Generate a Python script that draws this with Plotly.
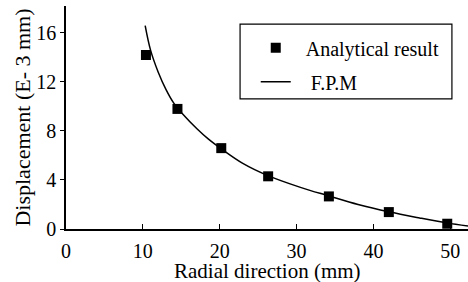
import plotly.graph_objects as go

# Analytical result (square markers)
ana_x = [10.4, 14.5, 20.2, 26.3, 34.2, 42.0, 49.6]
ana_y = [14.2, 9.8, 6.6, 4.3, 2.66, 1.38, 0.43]

# F.P.M curve
fpm_x = [10.3, 11.0, 12.0, 13.0, 14.0, 15.3, 17.0, 18.5, 20.4, 23.0, 26.1, 30.5, 34.2, 38.0, 42.0, 46.0, 49.5, 52.3]
fpm_y = [16.6, 14.6, 12.8, 11.4, 10.3, 9.3, 8.2, 7.35, 6.45, 5.35, 4.4, 3.4, 2.7, 2.0, 1.4, 0.9, 0.5, 0.25]

x_ticks = [0, 10, 20, 30, 40, 50]
y_ticks = [0, 4, 8, 12, 16]

FONT = "Liberation Serif"
NB = "\u00a0"

fig = go.Figure()
fig.add_trace(go.Scatter(
    x=ana_x, y=ana_y, mode="markers", name=NB * 2 + "Analytical result",
    marker=dict(symbol="square", size=10, color="black"),
    legendgroup="a",
))
fig.add_trace(go.Scatter(
    x=fpm_x, y=fpm_y, mode="lines", name=NB * 3 + "F.P.M",
    line=dict(color="black", width=1.5, shape="spline", smoothing=1.0),
    legendgroup="b",
))

# legend frame
fig.add_shape(type="rect", xref="paper", yref="paper",
              x0=0.433, x1=0.960, y0=0.5835, y1=0.919,
              line=dict(color="black", width=1.2), fillcolor="rgba(0,0,0,0)")

# x-axis title
fig.add_annotation(text="Radial direction (mm)", xref="paper", yref="paper",
                   x=0.5, y=-0.19, xanchor="center", yanchor="middle",
                   showarrow=False, font=dict(family=FONT, size=21, color="black"))

fig.update_layout(
    width=468, height=282,
    margin=dict(l=66, r=0, t=6, b=53),
    paper_bgcolor="white", plot_bgcolor="white",
    font=dict(family=FONT, size=20, color="black"),
    showlegend=True,
    legend=dict(
        x=0.472, y=0.9, xanchor="left", yanchor="top",
        borderwidth=0, bgcolor="rgba(0,0,0,0)",
        font=dict(family=FONT, size=20, color="black"),
        tracegroupgap=5,
    ),
    xaxis=dict(
        range=[0, 52.3], tickvals=x_ticks, ticktext=[str(v) for v in x_ticks],
        showline=True, linecolor="black", linewidth=1.5,
        ticks="inside", ticklen=5, tickcolor="black",
        showgrid=False, zeroline=False, automargin=False,
        ticklabelstandoff=3,
        tickfont=dict(family=FONT, size=20),
    ),
    yaxis=dict(
        range=[0, 18.2], tickvals=y_ticks, ticktext=[str(v) for v in y_ticks],
        showline=True, linecolor="black", linewidth=1.5,
        ticks="outside", ticklen=4, tickcolor="black",
        showgrid=False, zeroline=False, automargin=False,
        title=dict(text="Displacement (E- 3 mm)", font=dict(family=FONT, size=22), standoff=0),
        tickfont=dict(family=FONT, size=20),
    ),
)

fig.write_html("out.html", config={"displayModeBar": False},
               post_script="document.body.style.margin='0';document.body.style.overflow='hidden';")
